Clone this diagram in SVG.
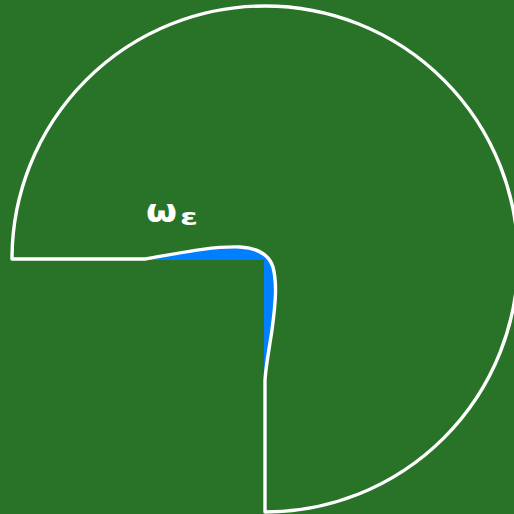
<svg xmlns="http://www.w3.org/2000/svg" width="514" height="514" viewBox="0 0 514 514">
<style>
.outline{fill:none;stroke:#fff;stroke-width:3.4;stroke-linejoin:round}
.lbl{fill:#fff;font-family:"DejaVu Sans",sans-serif;font-weight:bold}
</style>
<rect width="514" height="514" fill="#287328"/>
<g id="region">
<path d="M145,260 L264,260 L264,380 C265,365 269,350 271,330 C275,300 277,285 273,268 C269,256 258,248 240,247 C210,246 175,254 145,260 Z" fill="#0080ff"/>
</g>
<g id="boundary">
<path class="outline" d="M265,512 L265,380 C266,365 269,350 272,330 C276,300 277,283 273,267 C269,255 258,248 240,247 C210,246 175,254 145,259 L12,259 A253,253 0 1 1 265,512 Z"/>
</g>
<g id="label">
<text class="lbl" x="146" y="222" font-size="32" textLength="31" lengthAdjust="spacingAndGlyphs">ω</text>
<text class="lbl" x="180" y="225" font-size="23" textLength="18" lengthAdjust="spacingAndGlyphs">ε</text>
</g>
</svg>
